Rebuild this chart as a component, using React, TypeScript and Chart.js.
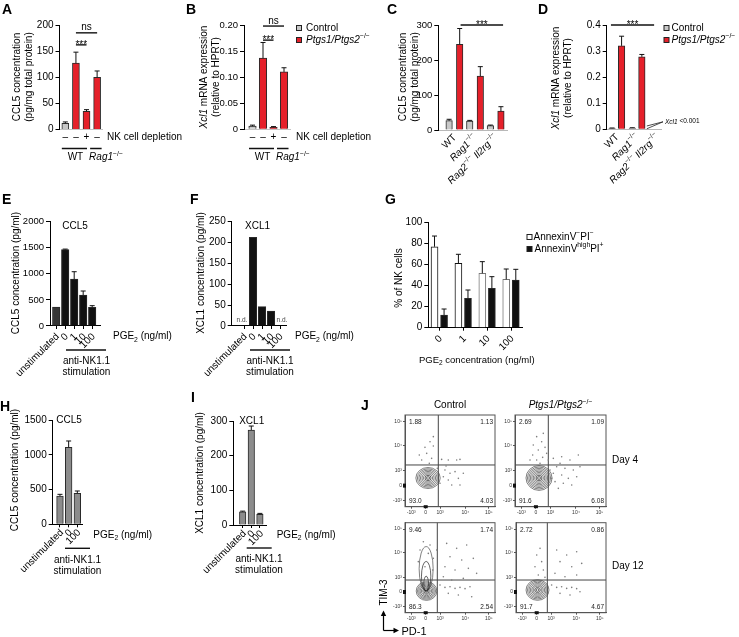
import React, { useEffect, useRef } from 'react';
import { Chart, registerables } from 'chart.js';
Chart.register(...registerables);

const W = 739;
const H = 637;
const FAM = '"Liberation Sans", Arial, Helvetica, sans-serif';
Chart.defaults.font.family = FAM;
Chart.defaults.color = '#000';

// ---------------- data ----------------
// markup in labels: `italic`, ^superscript^, ~subscript~
// A
const A_DEPLETION = ['–', '–', '+', '–'];
const A_CCL5 = [12, 127, 35, 100];
const A_CCL5_SEM = [2.5, 21, 3, 12];
const A_SIG = [
  { from: 1, to: 3, y: 185, label: 'ns' },
  { from: 1, to: 2, y: 162, label: '***' },
];
const AB_GROUPS = ['WT', '`Rag1`^−/−^'];
const AB_GROUP_SPAN = [[0, 2], [3, 3]];
// B
const B_DEPLETION = ['–', '–', '+', '–'];
const B_XCL1 = [0.006, 0.1365, 0.004, 0.11];
const B_XCL1_SEM = [0.002, 0.03, 0.0012, 0.008];
const B_SIG = [
  { from: 1, to: 3, y: 0.198, label: 'ns' },
  { from: 1, to: 2, y: 0.171, label: '***' },
];
const LEGEND_KO = ['Control', '`Ptgs1/Ptgs2`^−/−^'];
// C
const CD_CATS = ['WT', '`Rag1`^−/−^', '`Rag2`^−/−^ `Il2rg`^−/−^'];
const C_CTRL = [26.6, 25.7, 12.3];
const C_CTRL_SEM = [4, 1.8, 1.8];
const C_KO = [245, 154, 54];
const C_KO_SEM = [45, 27, 12.6];
const C_SIG = [{ from: 0.3, to: 2.36, y: 300, label: '***' }];
// D
const D_CTRL = [0.004, 0.005, null];
const D_CTRL_SEM = [0.001, 0.001, 0];
const D_KO = [0.32, 0.278, null];
const D_KO_SEM = [0.037, 0.009, 0];
const D_SIG = [{ from: -0.29, to: 1.84, y: 0.4, label: '***' }];
const D_NOTE = '`Xcl1` <0.001';
// E / F
const EF_CATS = ['unstimulated', '0', '1', '10', '100'];
const E_CCL5 = [364, 1465, 901, 594, 358];
const E_CCL5_SEM = [0, 10, 140, 77, 32];
const F_XCL1 = [null, 212.6, 46.3, 36, null];
const F_ND = ['n.d.', '', '', '', 'n.d.'];
// G
const G_CATS = ['0', '1', '10', '100'];
const G_LIVE = [77.1, 61.3, 51.8, 46];
const G_LIVE_SEM = [10.2, 8.6, 11.1, 9.9];
const G_DEAD = [12.1, 28, 37.5, 45.4];
const G_DEAD_SEM = [5.7, 7.9, 11.1, 10.2];
const G_LEGEND = ['AnnexinV^−^PI^−^', 'AnnexinV^high^PI^+^'];
// H / I
const HI_CATS = ['unstimulated', '0', '100'];
const H_CCL5 = [407, 1107, 446];
const H_CCL5_SEM = [24, 91, 33];
const I_XCL1 = [38, 274, 31];
const I_XCL1_SEM = [2, 11.5, 2.5];
// titles
const TITLE_TISSUE_CCL5 = ['CCL5 concentration', '(pg/mg total protein)'];
const TITLE_XCL1_MRNA = ['`Xcl1` mRNA expression', '(relative to HPRT)'];
const TITLE_CCL5 = 'CCL5 concentration (pg/ml)';
const TITLE_XCL1 = 'XCL1 concentration (pg/ml)';
const TITLE_NK = '% of NK cells';
const PGE_LABEL = 'PGE~2~ (ng/ml)';
const PGE_CONC = 'PGE~2~ concentration (ng/ml)';
const STIM = ['anti-NK1.1', 'stimulation'];
// J (flow cytometry, display channel 0-100)
const J_TITLES = ['Control', '`Ptgs1/Ptgs2`^−/−^'];
const J_DAYS = ['Day 4', 'Day 12'];
const J_TICK_VALS = [7, 23, 39, 67, 93];
const J_TICK_LABELS = ['-10³', '0', '10³', '10⁴', '10⁵'];
const J_QUADS = [
  ['1.88', '1.13', '93.0', '4.03'],
  ['2.69', '1.09', '91.6', '6.08'],
  ['9.46', '1.74', '86.3', '2.54'],
  ['2.72', '0.86', '91.7', '4.67'],
];
const J_GATES = [[37, 45.5], [36.6, 45.5], [35.9, 36.3], [34.8, 36.3]];
const J_POPS = [
  [{ cx: 25.6, cy: 31.3, sdx: 5.2, sdy: 4.4, n: 8, up: false }],
  [{ cx: 26.4, cy: 31.3, sdx: 5.5, sdy: 5.2, n: 9, up: false }],
  [
    { cx: 23.9, cy: 24.1, sdx: 4.4, sdy: 4, n: 8, up: false },
    { cx: 23.5, cy: 24.1, sdx: 3.0, sdy: 9.5, n: 3, up: true },
  ],
  [{ cx: 23.9, cy: 25.2, sdx: 4.9, sdy: 4.4, n: 8, up: false }],
];
const J_DOTS = [
  [[27.8,70.9],[31.5,66.2],[24.1,58.2],[18.5,50.9],[29.6,52.7],[27,47.3],[22.2,64.7],[40.7,51.6],[48.1,50.9],[57.4,50.9],[61.1,51.6],[44.4,40],[50,36.4],[55.6,38.2],[42.6,32.7],[48.1,29.1],[59.3,30.9],[64.8,36.4],[38.9,25.5],[51.9,23.6],[45.6,44.4],[35.9,41.8],[61.1,23.6],[31.5,76.4],[15.9,56.4]],
  [[23.8,76.4],[29.3,70.9],[20.1,67.3],[33,64.7],[25.6,61.8],[34.8,58.2],[19.4,56.4],[30.4,53.8],[23.8,50.9],[36.6,50.9],[27.5,47.3],[16.5,50.9],[42.1,52.7],[51.3,54.5],[60.4,50.9],[69.6,56.4],[45.8,43.6],[54.9,41.8],[64.1,40],[42.1,36.4],[51.3,34.5],[58.6,30.9],[67.8,32.7],[44,27.3],[53.1,25.5],[62.3,23.6],[47.6,20],[38.5,40],[40.3,30.9],[71.4,43.6],[31.1,80],[49.5,47.3]],
  [[20.4,78.9],[27.8,75.2],[16.7,69.6],[25.9,65.9],[31.5,60.4],[14.8,56.7],[22.2,51.1],[30.7,47.4],[46.3,77],[57.4,71.5],[68.5,75.2],[50,62.2],[63,58.5],[75.9,60.4],[44.4,51.1],[55.6,47.4],[70.4,49.3],[79.6,43.7],[42.6,40],[51.9,36.3],[64.8,38.1],[38.9,30.7],[44.4,28.1],[50,28.9],[55.6,27],[61.1,28.1],[66.7,26.7],[72.2,28.9],[48.1,21.5],[59.3,19.6],[74.1,17.8],[35.2,69.6]],
  [[23,64.1],[28.5,56.7],[21.1,51.1],[30.4,47.4],[24.8,41.9],[32.2,39.3],[45.2,69.6],[56.3,64.1],[67.4,67.8],[48.9,56.7],[61.9,51.1],[73,54.8],[43.3,43.7],[54.4,40],[67.4,41.9],[39.6,30.7],[45.2,28.1],[50.7,28.9],[56.3,27],[61.9,28.1],[67.4,26.7],[48.9,21.5],[60,19.6],[71.1,23.3],[26.7,71.5]],
];

// ---------------- styles / layout ----------------
const RED = '#e5202a';
const GREY = '#c8c8c8';
const EDGE = '#2a2a2a';
const BLACK = '#111111';
const DARK = '#363636';
const MID = '#8c8c8c';
const ROT45 = -Math.PI / 4;
const ROT90 = -Math.PI / 2;
const J_BOX = [
  { L: 405, T: 415, R: 495, B: 506.7 },
  { L: 515, T: 415, R: 606, B: 506.7 },
  { L: 405, T: 522.7, R: 495, B: 612.7 },
  { L: 516, T: 522.7, R: 606, B: 612.7 },
];

// ---------------- drawing helpers ----------------
function parse(s: string) {
  const out: any[] = [];
  let cur = '';
  let it = false, sup = false, sub = false;
  const flush = () => { if (cur) out.push({ t: cur, i: it, sup, sub }); cur = ''; };
  for (const ch of s) {
    if (ch === '`') { flush(); it = !it; }
    else if (ch === '^') { flush(); sup = !sup; }
    else if (ch === '~') { flush(); sub = !sub; }
    else cur += ch;
  }
  flush();
  return out;
}

function rich(ctx: any, text: string, x: number, y: number, o: any = {}) {
  const size = o.size ?? 10;
  const segs = parse(text);
  ctx.save();
  ctx.translate(x, y);
  if (o.rot) ctx.rotate(o.rot);
  ctx.textBaseline = o.baseline || 'middle';
  ctx.textAlign = 'left';
  ctx.fillStyle = o.color || '#000';
  const fnt = (s: any) => `${s.i ? 'italic ' : ''}${o.bold ? 'bold ' : ''}${s.sup || s.sub ? Math.round(size * 6.8) / 10 : size}px ${FAM}`;
  const widths = segs.map((s: any) => { ctx.font = fnt(s); return ctx.measureText(s.t).width; });
  const total = widths.reduce((a: number, b: number) => a + b, 0);
  let cx = o.align === 'center' ? -total / 2 : o.align === 'right' ? -total : 0;
  segs.forEach((s: any, i: number) => {
    ctx.font = fnt(s);
    const dy = s.sup ? -size * 0.38 : s.sub ? size * 0.3 : 0;
    ctx.fillText(s.t, cx, dy);
    cx += widths[i];
  });
  ctx.restore();
}

function seg(ctx: any, x1: number, y1: number, x2: number, y2: number, w = 1, c = '#000') {
  ctx.save();
  ctx.beginPath();
  ctx.moveTo(x1, y1);
  ctx.lineTo(x2, y2);
  ctx.lineWidth = w;
  ctx.strokeStyle = c;
  ctx.stroke();
  ctx.restore();
}

function box(ctx: any, x: number, y: number, w: number, h: number, fill: string, stroke: string) {
  ctx.save();
  ctx.fillStyle = fill;
  ctx.fillRect(x, y, w, h);
  if (stroke) { ctx.strokeStyle = stroke; ctx.lineWidth = 1; ctx.strokeRect(x, y, w, h); }
  ctx.restore();
}

const letter = (ctx: any, t: string, x: number, y: number) => rich(ctx, t, x, y, { size: 14, bold: true });
const yTitle2 = (ctx: any, lines: string[], x1: number, x2: number, yc: number) => {
  rich(ctx, lines[0], x1, yc, { align: 'center', rot: ROT90 });
  rich(ctx, lines[1], x2, yc, { align: 'center', rot: ROT90 });
};
const yTitle = (ctx: any, t: string, x: number, yc: number) => rich(ctx, t, x, yc, { align: 'center', rot: ROT90 });

function sig(ctx: any, sx: any, sy: any, list: any[]) {
  list.forEach((s) => {
    const y = sy(s.y);
    const x1 = sx(s.from), x2 = sx(s.to);
    seg(ctx, x1, y, x2, y, 1.4, '#111');
    rich(ctx, s.label, (x1 + x2) / 2, y + (s.label === 'ns' ? -2.5 : 3.2), { align: 'center', baseline: 'alphabetic' });
  });
}

function depletion(ctx: any, sx: any, signs: string[], labelX: number) {
  signs.forEach((t, i) => rich(ctx, t, sx(i), 137, { align: 'center' }));
  rich(ctx, 'NK cell depletion', labelX, 137);
}

function groups(ctx: any, sx: any) {
  AB_GROUPS.forEach((g, gi) => {
    const [a, b] = AB_GROUP_SPAN[gi];
    if (gi === 0) {
      const x1 = sx(a) - 3.5, x2 = sx(b) + 0.5;
      seg(ctx, x1, 148.5, x2, 148.5, 1.5, '#111');
      rich(ctx, g, (x1 + x2) / 2 + 1, 157.5, { align: 'center' });
    } else {
      const x1 = sx(a) - 7, x2 = sx(b) + 4.5;
      seg(ctx, x1, 148.5, x2, 148.5, 1.5, '#111');
      rich(ctx, g, x1 - 1, 157.5);
    }
  });
}

function legendItem(ctx: any, x: number, y: number, fill: string, label: string, textX: number) {
  box(ctx, x + 0.5, y - 2.5, 5, 5, fill, '#222');
  rich(ctx, label, textX, y);
}

function catLabels(ctx: any, sx: any, cats: string[], xs: number[], y: number, dx: number) {
  cats.forEach((c, i) => rich(ctx, c, sx(xs[i]) + dx, y, { align: 'right', rot: ROT45 }));
}

function stim(ctx: any, x1: number, x2: number, y: number, cx: number) {
  seg(ctx, x1, y, x2, y, 1.4, '#111');
  rich(ctx, STIM[0], cx, y + 11.7, { align: 'center' });
  rich(ctx, STIM[1], cx, y + 22.7, { align: 'center' });
}

const idx = (arr: any[]) => arr.map((_, i) => i);
const off = (arr: any[], d: number) => arr.map((_, i) => i + d);
const fmt2 = (v: any) => (Number(v) === 0 ? '0' : Number(v).toFixed(2));
const fmt1 = (v: any) => (Number(v) === 0 ? '0' : Number(v).toFixed(1));
const fmt0 = (v: any) => String(Math.round(Number(v)));

// ---------------- bar chart factory ----------------
function bars(spec: any) {
  const YW = 40, XH = 8;
  const { L, T, R, B } = spec.area;
  return {
    type: 'bar',
    data: {
      datasets: spec.sets.map((s: any) => ({
        data: s.xs.map((x: number, i: number) => ({ x, y: s.ys[i] })),
        backgroundColor: s.fill,
        borderColor: s.border || EDGE,
        borderWidth: 1,
        barThickness: s.thick,
        grouped: false,
      })),
    },
    options: {
      animation: false,
      responsive: false,
      events: [],
      layout: { padding: { left: L - YW, top: T, right: W - R, bottom: H - B - XH } },
      plugins: { legend: { display: false }, tooltip: { enabled: false } },
      scales: {
        x: {
          type: 'linear',
          min: spec.xMin,
          max: spec.xMax,
          offset: false,
          afterBuildTicks: (sc: any) => { sc.ticks = spec.xTicks.map((v: number) => ({ value: v })); },
          afterFit: (sc: any) => { sc.height = XH; },
          ticks: { display: false },
          grid: { display: true, drawOnChartArea: false, drawTicks: spec.tickMarks, tickLength: 3, color: '#000', tickColor: '#000', offset: false },
          border: { display: true, color: spec.axisColor, width: 1 },
        },
        y: {
          type: 'linear',
          min: 0,
          max: spec.yMax,
          afterFit: (sc: any) => { sc.width = YW; },
          ticks: { stepSize: spec.yStep, font: { size: spec.tickSize || 10, family: FAM }, color: '#000', padding: 2, callback: spec.yFmt || fmt0 },
          grid: { drawOnChartArea: false, drawTicks: true, tickLength: 4, color: '#000', tickColor: '#000', offset: false },
          border: { color: '#000', width: 1 },
        },
      },
    },
    plugins: [{
      id: 'annot',
      afterDraw(chart: any) {
        const ctx = chart.ctx;
        const sx = (v: number) => chart.scales.x.getPixelForValue(v);
        const sy = (v: number) => chart.scales.y.getPixelForValue(v);
        spec.sets.forEach((s: any) => {
          if (!s.sem) return;
          s.xs.forEach((x: number, i: number) => {
            const v = s.ys[i];
            const e = s.sem[i];
            if (v == null || !e) return;
            const px = sx(x), y0 = sy(v), y1 = sy(v + e);
            seg(ctx, px, y0, px, y1, 1, '#111');
            seg(ctx, px - 2.5, y1, px + 2.5, y1, 1, '#111');
          });
        });
        spec.extra(ctx, sx, sy);
      },
    }],
  };
}

const makeA = () => bars({
  area: { L: 59.5, T: 25, R: 102, B: 129.5 }, yMax: 200, yStep: 50,
  xMin: -0.55, xMax: 3.46, xTicks: [], tickMarks: false, axisColor: '#c4c4c4',
  sets: [{ xs: idx(A_CCL5), ys: A_CCL5, sem: A_CCL5_SEM, fill: [GREY, RED, RED, RED], thick: 7 }],
  extra: (ctx: any, sx: any, sy: any) => {
    letter(ctx, 'A', 2, 10);
    yTitle2(ctx, TITLE_TISSUE_CCL5, 17, 29.5, 77);
    depletion(ctx, sx, A_DEPLETION, 107);
    groups(ctx, sx);
    sig(ctx, sx, sy, A_SIG);
  },
});

const makeB = () => bars({
  area: { L: 244, T: 25, R: 290, B: 129.3 }, yMax: 0.2, yStep: 0.05, yFmt: fmt2, tickSize: 9.5,
  xMin: -0.81, xMax: 3.57, xTicks: [], tickMarks: false, axisColor: '#c4c4c4',
  sets: [{ xs: idx(B_XCL1), ys: B_XCL1, sem: B_XCL1_SEM, fill: [GREY, RED, RED, RED], thick: 7.5 }],
  extra: (ctx: any, sx: any, sy: any) => {
    letter(ctx, 'B', 186, 10);
    yTitle2(ctx, TITLE_XCL1_MRNA, 204.5, 216, 77);
    depletion(ctx, sx, B_DEPLETION, 296);
    groups(ctx, sx);
    sig(ctx, sx, sy, B_SIG);
    legendItem(ctx, 296, 28, GREY, LEGEND_KO[0], 306);
    legendItem(ctx, 296, 40, RED, LEGEND_KO[1], 306);
  },
});

const makeC = () => bars({
  area: { L: 438.3, T: 25, R: 507, B: 130 }, yMax: 300, yStep: 100, tickSize: 9.5,
  xMin: -0.78, xMax: 2.55, xTicks: [], tickMarks: false, axisColor: '#b8b8b8',
  sets: [
    { xs: off(C_CTRL, -0.256), ys: C_CTRL, sem: C_CTRL_SEM, fill: GREY, thick: 6.5 },
    { xs: off(C_KO, 0.256), ys: C_KO, sem: C_KO_SEM, fill: RED, thick: 6.5 },
  ],
  extra: (ctx: any, sx: any, sy: any) => {
    letter(ctx, 'C', 387, 10);
    yTitle2(ctx, TITLE_TISSUE_CCL5, 403.5, 415.5, 77);
    sig(ctx, sx, sy, C_SIG);
    catLabels(ctx, sx, CD_CATS, idx(CD_CATS), 136, 0.5);
  },
});

const makeD = () => bars({
  area: { L: 606.7, T: 25, R: 661, B: 129.3 }, yMax: 0.4, yStep: 0.1, yFmt: fmt1,
  xMin: -0.5, xMax: 2.18, xTicks: [], tickMarks: false, axisColor: '#b8b8b8',
  sets: [
    { xs: off(D_CTRL, -0.235), ys: D_CTRL, sem: D_CTRL_SEM, fill: GREY, thick: 6.5 },
    { xs: off(D_KO, 0.235), ys: D_KO, sem: D_KO_SEM, fill: RED, thick: 6.5 },
  ],
  extra: (ctx: any, sx: any, sy: any) => {
    letter(ctx, 'D', 538, 10);
    yTitle2(ctx, TITLE_XCL1_MRNA, 556, 568, 78);
    sig(ctx, sx, sy, D_SIG);
    catLabels(ctx, sx, CD_CATS, idx(CD_CATS), 135.5, 0.5);
    legendItem(ctx, 663.5, 28, GREY, LEGEND_KO[0], 671.5);
    legendItem(ctx, 663.5, 40, RED, LEGEND_KO[1], 671.5);
    const bx = sx(1.48), by = sy(0.002);
    seg(ctx, bx, by, 663, 121.8, 0.8, '#222');
    seg(ctx, bx, by - 2.8, 663, 121.8, 0.8, '#222');
    rich(ctx, D_NOTE, 665, 121.7, { size: 6.5 });
  },
});

const makeE = () => bars({
  area: { L: 50, T: 221.7, R: 100, B: 326 }, yMax: 2000, yStep: 500, tickSize: 9.5,
  xMin: -0.69, xMax: 4.87, xTicks: idx(E_CCL5), tickMarks: true, axisColor: '#000',
  sets: [{ xs: idx(E_CCL5), ys: E_CCL5, sem: E_CCL5_SEM, fill: [DARK, BLACK, BLACK, BLACK, BLACK], thick: 7.5 }],
  extra: (ctx: any, sx: any) => {
    letter(ctx, 'E', 2, 200);
    yTitle(ctx, TITLE_CCL5, 16, 273);
    rich(ctx, 'CCL5', 75, 226.7, { align: 'center' });
    catLabels(ctx, sx, EF_CATS, idx(EF_CATS), 335, 1.5);
    rich(ctx, PGE_LABEL, 113, 336.7);
    stim(ctx, 66, 106, 350, 86.5);
  },
});

const makeF = () => bars({
  area: { L: 231.7, T: 221.7, R: 286.7, B: 326 }, yMax: 250, yStep: 50,
  xMin: -1.37, xMax: 4.74, xTicks: idx(F_XCL1), tickMarks: true, axisColor: '#000',
  sets: [{ xs: idx(F_XCL1), ys: F_XCL1, fill: BLACK, thick: 7.5 }],
  extra: (ctx: any, sx: any, sy: any) => {
    letter(ctx, 'F', 190, 200);
    yTitle(ctx, TITLE_XCL1, 201.7, 273);
    rich(ctx, 'XCL1', 257.5, 226.7, { align: 'center' });
    F_ND.forEach((t, i) => { if (t) rich(ctx, t, sx(i) + (i === 0 ? -2 : 2), sy(14), { align: 'center', size: 6.5, color: '#444' }); });
    catLabels(ctx, sx, EF_CATS, idx(EF_CATS), 335, 1.5);
    rich(ctx, PGE_LABEL, 295, 336.7);
    stim(ctx, 250, 290, 350, 270);
  },
});

const makeG = () => bars({
  area: { L: 428.3, T: 222.7, R: 522, B: 327.7 }, yMax: 100, yStep: 20,
  xMin: -0.46, xMax: 3.46, xTicks: idx(G_CATS), tickMarks: true, axisColor: '#000',
  sets: [
    { xs: off(G_LIVE, -0.2), ys: G_LIVE, sem: G_LIVE_SEM, fill: '#ffffff', border: ['#111', '#111', '#777', '#777'], thick: 7 },
    { xs: off(G_DEAD, 0.2), ys: G_DEAD, sem: G_DEAD_SEM, fill: BLACK, thick: 7 },
  ],
  extra: (ctx: any, sx: any) => {
    letter(ctx, 'G', 385, 200.5);
    yTitle(ctx, TITLE_NK, 399.3, 278);
    catLabels(ctx, sx, G_CATS, idx(G_CATS), 337, 1.5);
    rich(ctx, PGE_CONC, 419, 360, { size: 9.5 });
    box(ctx, 527, 234.5, 5, 5, '#fff', '#222');
    rich(ctx, G_LEGEND[0], 533.5, 237.3);
    box(ctx, 527, 246.5, 5, 5, BLACK, '#222');
    rich(ctx, G_LEGEND[1], 534.5, 249.3);
  },
});

const makeH = () => bars({
  area: { L: 52.7, T: 420, R: 82.7, B: 524.3 }, yMax: 1500, yStep: 500,
  xMin: -0.84, xMax: 2.62, xTicks: idx(H_CCL5), tickMarks: true, axisColor: '#000',
  sets: [{ xs: idx(H_CCL5), ys: H_CCL5, sem: H_CCL5_SEM, fill: MID, thick: 6.7 }],
  extra: (ctx: any, sx: any) => {
    letter(ctx, 'H', 0, 406.7);
    yTitle(ctx, TITLE_CCL5, 15, 470);
    rich(ctx, 'CCL5', 69, 420, { align: 'center' });
    catLabels(ctx, sx, HI_CATS, idx(HI_CATS), 531, 2);
    rich(ctx, PGE_LABEL, 93.3, 535);
    stim(ctx, 65, 90, 548.3, 77.5);
  },
});

const makeI = () => bars({
  area: { L: 233.3, T: 421, R: 266, B: 525 }, yMax: 300, yStep: 100,
  xMin: -1.09, xMax: 2.71, xTicks: idx(I_XCL1), tickMarks: true, axisColor: '#000',
  sets: [{ xs: idx(I_XCL1), ys: I_XCL1, sem: I_XCL1_SEM, fill: MID, thick: 6.5 }],
  extra: (ctx: any, sx: any) => {
    letter(ctx, 'I', 191, 398);
    yTitle(ctx, TITLE_XCL1, 200.7, 473);
    rich(ctx, 'XCL1', 251.7, 421, { align: 'center' });
    catLabels(ctx, sx, HI_CATS, idx(HI_CATS), 532, 2);
    rich(ctx, PGE_LABEL, 276.7, 535);
    stim(ctx, 246.7, 271.7, 548, 259);
  },
});

// ---------------- flow plots ----------------
function flow(k: number) {
  const b = J_BOX[k];
  const YW = 16, XH = 12;
  const tickCfg = {
    autoSkip: false, maxRotation: 0, minRotation: 0, font: { size: 5, family: FAM }, color: '#333', padding: 1,
    callback: (_v: any, i: number) => J_TICK_LABELS[i],
  };
  return {
    type: 'scatter',
    data: {
      datasets: [{
        data: J_DOTS[k].map(([x, y]) => ({ x, y })),
        pointRadius: 0.8,
        pointBackgroundColor: '#7d7d7d',
        pointBorderWidth: 0,
      }],
    },
    options: {
      animation: false,
      responsive: false,
      events: [],
      layout: { padding: { left: b.L - YW, top: b.T, right: W - b.R, bottom: H - b.B - XH } },
      plugins: { legend: { display: false }, tooltip: { enabled: false } },
      scales: {
        x: {
          type: 'linear', min: 0, max: 100,
          afterBuildTicks: (sc: any) => { sc.ticks = J_TICK_VALS.map((v) => ({ value: v })); },
          afterFit: (sc: any) => { sc.height = XH; },
          ticks: tickCfg,
          grid: { drawOnChartArea: false, tickLength: 2, color: '#555', tickColor: '#555' },
          border: { color: '#555' },
        },
        y: {
          type: 'linear', min: 0, max: 100,
          afterBuildTicks: (sc: any) => { sc.ticks = J_TICK_VALS.map((v) => ({ value: v })); },
          afterFit: (sc: any) => { sc.width = YW; },
          ticks: tickCfg,
          grid: { drawOnChartArea: false, tickLength: 2, color: '#555', tickColor: '#555' },
          border: { color: '#555' },
        },
      },
    },
    plugins: [{
      id: 'flow',
      beforeDatasetsDraw(chart: any) {
        const ctx = chart.ctx;
        const sx = (v: number) => chart.scales.x.getPixelForValue(v);
        const sy = (v: number) => chart.scales.y.getPixelForValue(v);
        ctx.save();
        J_POPS[k].forEach((p) => {
          for (let r = p.n; r >= 1; r--) {
            const f = (r / p.n) * 2.6;
            const rx = sx(p.cx + f * p.sdx) - sx(p.cx);
            const ry = sy(p.cy) - sy(p.cy + f * p.sdy);
            const cy = p.up ? sy(p.cy) - ry : sy(p.cy);
            ctx.beginPath();
            ctx.ellipse(sx(p.cx), cy, rx, ry, 0, 0, Math.PI * 2);
            ctx.strokeStyle = r <= 2 ? '#222' : '#4a4a4a';
            ctx.lineWidth = 0.7;
            ctx.stroke();
          }
        });
        ctx.restore();
        const [gx, gy] = J_GATES[k];
        seg(ctx, sx(gx), b.T, sx(gx), b.B, 1, '#444');
        seg(ctx, b.L, sy(gy), b.R, sy(gy), 1, '#444');
      },
      afterDraw(chart: any) {
        const ctx = chart.ctx;
        const sx = (v: number) => chart.scales.x.getPixelForValue(v);
        const sy = (v: number) => chart.scales.y.getPixelForValue(v);
        ctx.save();
        ctx.strokeStyle = '#555';
        ctx.lineWidth = 1;
        ctx.strokeRect(b.L, b.T, b.R - b.L, b.B - b.T);
        ctx.restore();
        box(ctx, b.L - 2, sy(23) - 2, 3, 4, '#111', '');
        box(ctx, sx(23) - 2, b.B - 1.5, 4, 3, '#111', '');
        const q = J_QUADS[k];
        rich(ctx, q[0], b.L + 4, b.T + 7.3, { size: 6.5, color: '#222' });
        rich(ctx, q[1], b.R - 2, b.T + 7.3, { size: 6.5, color: '#222', align: 'right' });
        rich(ctx, q[2], b.L + 4, b.B - 5.5, { size: 6.5, color: '#222' });
        rich(ctx, q[3], b.R - 2, b.B - 5.5, { size: 6.5, color: '#222', align: 'right' });
        if (k === 0) {
          letter(ctx, 'J', 361, 406.5);
          rich(ctx, J_TITLES[0], (J_BOX[0].L + J_BOX[0].R) / 2, 405.7, { align: 'center' });
          rich(ctx, J_TITLES[1], (J_BOX[1].L + J_BOX[1].R) / 2, 405.7, { align: 'center' });
          rich(ctx, J_DAYS[0], 612, 460);
          rich(ctx, J_DAYS[1], 612, 566);
          seg(ctx, 383.5, 630.5, 383.5, 614, 1.2, '#000');
          seg(ctx, 383.5, 630.5, 395, 630.5, 1.2, '#000');
          ctx.save();
          ctx.fillStyle = '#000';
          ctx.beginPath(); ctx.moveTo(383.5, 610.5); ctx.lineTo(380.8, 616); ctx.lineTo(386.2, 616); ctx.closePath(); ctx.fill();
          ctx.beginPath(); ctx.moveTo(399, 630.5); ctx.lineTo(393.5, 627.8); ctx.lineTo(393.5, 633.2); ctx.closePath(); ctx.fill();
          ctx.restore();
          rich(ctx, 'TIM-3', 383.8, 592.5, { align: 'center', rot: ROT90, size: 10 });
          rich(ctx, 'PD-1', 401.5, 631.5, { size: 11 });
        }
      },
    }],
  };
}

const MAKERS = [makeA, makeB, makeC, makeD, makeE, makeF, makeG, makeH, makeI, () => flow(0), () => flow(1), () => flow(2), () => flow(3)];

function ChartLayer({ make }: { make: () => any }) {
  const ref = useRef<HTMLCanvasElement | null>(null);
  useEffect(() => {
    const chart = new Chart(ref.current as any, make());
    return () => chart.destroy();
  }, []);
  return (
    <canvas
      ref={ref}
      width={W}
      height={H}
      style={{ position: 'absolute', left: 0, top: 0, width: W, height: H, pointerEvents: 'none' }}
    />
  );
}

export default function App() {
  return (
    <div style={{ position: 'fixed', left: 0, top: 0, width: W, height: H, background: '#fff', overflow: 'hidden' }}>
      {MAKERS.map((m, i) => (
        <ChartLayer key={i} make={m} />
      ))}
    </div>
  );
}
